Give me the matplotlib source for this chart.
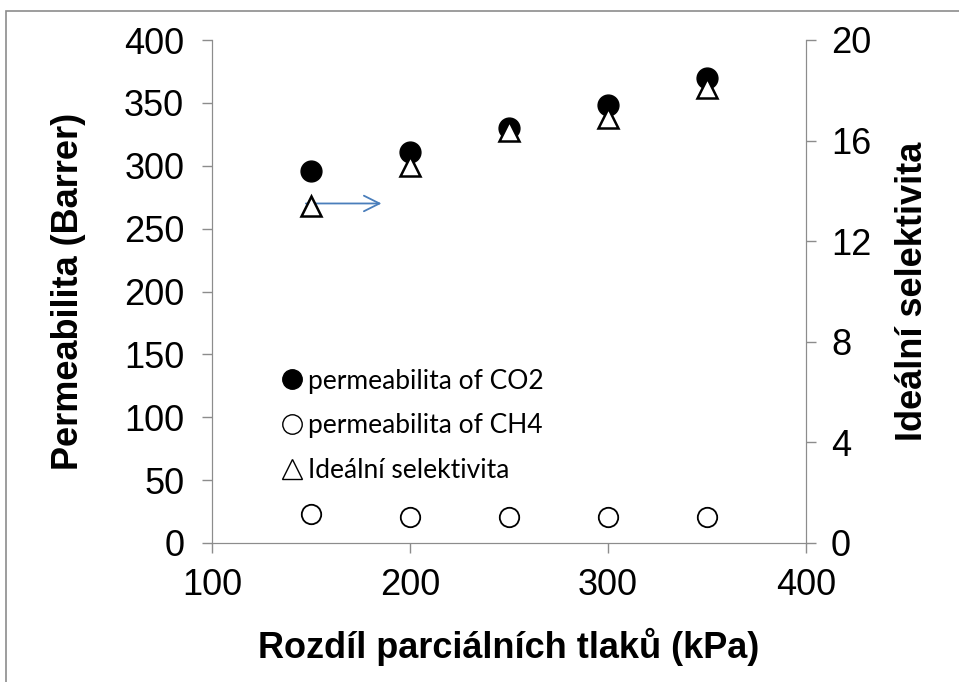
import matplotlib.pyplot as plt
from matplotlib.patches import Rectangle
from matplotlib.lines import Line2D

# data
tlak = [150, 200, 250, 300, 350]
perm_co2 = [296, 311, 330, 348, 370]
perm_ch4 = [23, 21, 21, 21, 21]
selektivita = [13.4, 15.0, 16.4, 16.9, 18.1]

plt.rcParams['font.family'] = ['Liberation Sans', 'DejaVu Sans']
grey = '#8c8c8c'

fig = plt.figure(figsize=(9.59, 6.82), dpi=100)
fig.patches.append(Rectangle((6 / 959, -0.1), 1.2, 1.1 - 11 / 682, transform=fig.transFigure,
                             fill=False, edgecolor=grey, lw=1.2))

ax = fig.add_axes([212 / 959, 1 - 543 / 682, 594 / 959, 503 / 682])
ax2 = ax.twinx()

ax.plot(tlak, perm_co2, 'o', color='black', ms=15, zorder=3)
ax.plot(tlak, perm_ch4, 'o', mfc='white', mec='black', mew=1.3, ms=14, zorder=3)
ax2.plot(tlak, selektivita, '^', mfc='white', mec='black', mew=1.8, ms=14, zorder=2)

ax.set_xlim(100, 400)
ax.set_ylim(0, 400)
ax2.set_ylim(0, 20)
ax.set_xticks([100, 200, 300, 400])
ax.set_yticks(range(0, 401, 50))
ax2.set_yticks([0, 4, 8, 12, 16, 20])

for a in (ax, ax2):
    a.spines['top'].set_visible(False)
    for s in a.spines.values():
        s.set_color(grey)
    a.tick_params(colors=grey, labelcolor='black', labelsize=26, length=7, width=1)
ax.tick_params(axis='y', pad=13)
ax.tick_params(axis='x', pad=11)
ax2.tick_params(axis='y', pad=11)

ax.set_xlabel('Rozdíl parciálních tlaků (kPa)', fontsize=26, fontweight='bold', labelpad=18)
ax.set_ylabel('Permeabilita (Barrer)', fontsize=26, fontweight='bold', labelpad=27)
ax2.set_ylabel('Ideální selektivita', fontsize=26, fontweight='bold', labelpad=17)

# arrow pointing to the right axis
ax.annotate('', xy=(187, 270), xytext=(146, 270),
            arrowprops=dict(arrowstyle='->', color='#4a7ebb', lw=1.3, mutation_scale=28))

handles = [
    Line2D([], [], marker='o', ls='', color='black', ms=14),
    Line2D([], [], marker='o', ls='', mfc='white', mec='black', ms=14),
    Line2D([], [], marker='^', ls='', mfc='white', mec='black', ms=14),
]
labels = ['permeabilita of CO2', 'permeabilita of CH4', 'Ideální selektivita']
ax.legend(handles, labels, loc='upper left', bbox_to_anchor=(272 / 959, 1 - 358 / 682),
          bbox_transform=fig.transFigure, frameon=False, prop={'family': 'Lato', 'size': 19},
          handlelength=0.7, handletextpad=0.25, labelspacing=0.75, borderaxespad=0)

fig.savefig('out.png', dpi=100)
